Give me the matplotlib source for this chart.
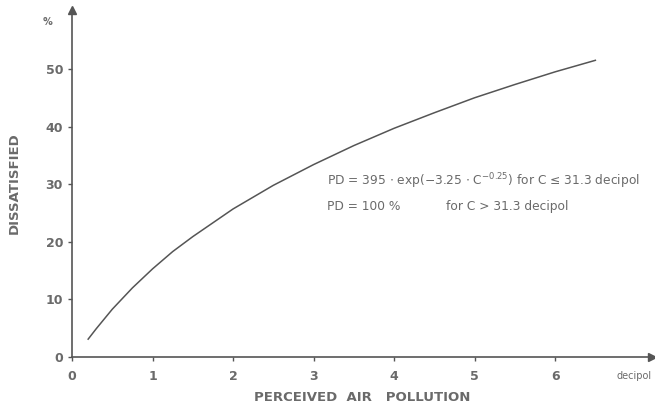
import matplotlib
matplotlib.use("Agg")
import matplotlib.pyplot as plt

# values
conc = [0.2, 0.3, 0.4, 0.5, 0.75, 1.0, 1.25, 1.5, 2.0, 2.5, 3.0, 3.5, 4.0, 4.5, 5.0, 5.5, 6.0, 6.5]
dissatisfied = [3.1, 4.9, 6.6, 8.3, 12.0, 15.3, 18.3, 20.9, 25.7, 29.8, 33.4, 36.7, 39.7, 42.4, 45.0, 47.3, 49.5, 51.5]
xticks = [0, 1, 2, 3, 4, 5, 6]
yticks = [0, 10, 20, 30, 40, 50]

ink = "#555555"
txt = "#6a6a6a"
plt.rcParams['font.family'] = ['DejaVu Sans']

fig = plt.figure(figsize=(6.55, 4.08), dpi=100)
ax = fig.add_axes([0.110, 0.125, 0.885, 0.850])
ax.plot(conc, dissatisfied, color=ink, lw=1.1)
ax.set_xlim(0, 7.2)
ax.set_ylim(0, 60.2)

for s in ["top", "right"]:
    ax.spines[s].set_visible(False)
for s in ["left", "bottom"]:
    ax.spines[s].set_color(ink)
    ax.spines[s].set_linewidth(1.2)

# arrow heads on the axes
ax.plot([0], [60.2], marker="^", color=ink, ms=6, clip_on=False)
ax.plot([7.2], [0], marker=">", color=ink, ms=6, clip_on=False)

ax.set_xticks(xticks)
ax.set_yticks(yticks)
ax.tick_params(colors=ink, labelcolor=txt, labelsize=9, length=3, width=1)
ax.tick_params(axis="x", pad=6)
for lab in ax.get_xticklabels() + ax.get_yticklabels():
    lab.set_fontweight("bold")

ax.text(-0.25, 59.0, "%", color=txt, fontsize=7, fontweight="bold", ha="right", va="top")
ax.text(6.98, -2.4, "decipol", color=txt, fontsize=7, ha="center", va="top")

ax.set_xlabel("PERCEIVED  AIR   POLLUTION", color=txt, fontsize=9.5, fontweight="bold", labelpad=6)
ax.set_ylabel("DISSATISFIED", color=txt, fontsize=9.5, fontweight="bold", labelpad=18)

ax.text(3.17, 30.5, r"PD = 395 $\cdot$ exp(−3.25 $\cdot$ C$^{-0.25}$) for C ≤ 31.3 decipol",
        color=txt, fontsize=8.8, va="center")
ax.text(3.17, 26.1, "PD = 100 %", color=txt, fontsize=8.8, va="center")
ax.text(4.64, 26.1, "for C > 31.3 decipol", color=txt, fontsize=8.8, va="center")

fig.savefig("out.png", dpi=100)
